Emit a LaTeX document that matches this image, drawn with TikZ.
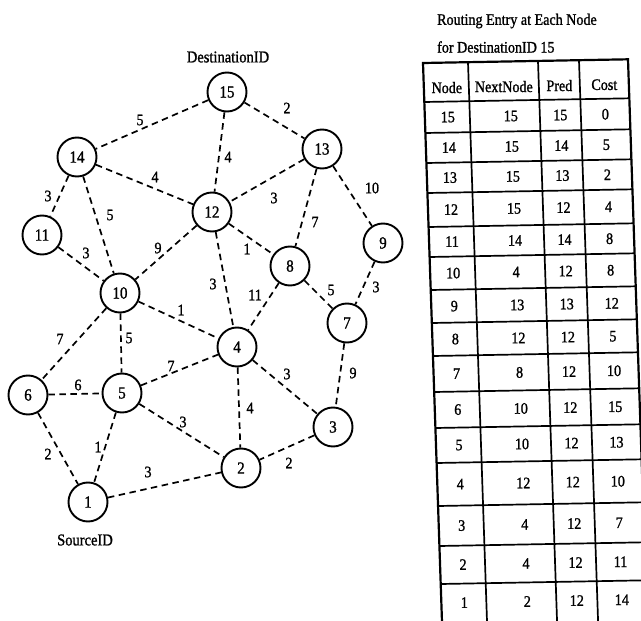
\documentclass[tikz,border=0pt]{standalone}
\usepackage{fontspec}
\setmainfont[FakeBold=1.2, FakeStretch=0.88]{Liberation Serif}
\begin{document}
\begin{tikzpicture}[x=1pt,y=-1pt,
  vtx/.style={circle, draw, line width=1.9pt, minimum size=39pt, inner sep=0pt, font=\fontsize{17}{17}\selectfont},
  edge/.style={line width=1.7pt, dash pattern=on 6.5pt off 4.5pt},
  wt/.style={inner sep=0pt, font=\fontsize{16}{16}\selectfont},
  lbl/.style={inner sep=0pt, font=\fontsize{16.5}{16.5}\selectfont},
  cell/.style={inner sep=0pt, font=\fontsize{16}{16}\selectfont},
  grid/.style={line width=1.7pt},
  frame/.style={line width=2.2pt}]
\useasboundingbox (0,0) rectangle (641,621);
\clip (0,0) rectangle (641,621);
% vertices
\node[vtx] (n15) at (227,92) {15};
\node[vtx] (n14) at (77,157) {14};
\node[vtx] (n13) at (322,149) {13};
\node[vtx] (n12) at (212,212) {12};
\node[vtx] (n11) at (42,235) {11};
\node[vtx] (n9) at (383,243) {9};
\node[vtx] (n8) at (290,266) {8};
\node[vtx] (n10) at (120,293) {10};
\node[vtx] (n7) at (347,323) {7};
\node[vtx] (n4) at (237,347) {4};
\node[vtx] (n6) at (28,395) {6};
\node[vtx] (n5) at (122,393) {5};
\node[vtx] (n3) at (333,427) {3};
\node[vtx] (n2) at (241,468) {2};
\node[vtx] (n1) at (88,502) {1};
\node[lbl] (dest) at (228,57) {DestinationID};
\node[lbl] (src) at (85,540) {SourceID};
% edges
\foreach \a/\b in {15/14,15/13,15/12,14/12,14/11,14/10,11/10,12/10,13/12,13/8,13/9,12/8,12/4,8/4,8/7,9/7,10/4,10/6,10/5,5/4,6/5,5/2,6/1,5/1,1/2,4/3,4/2,7/3,3/2}
  \draw[edge] (n\a) -- (n\b);
% weights
\node[wt] (w15-14) at (140,120) {5};
\node[wt] (w15-13) at (287,108) {2};
\node[wt] (w15-12) at (228,157) {4};
\node[wt] (w14-12) at (155,177) {4};
\node[wt] (w14-11) at (48,196) {3};
\node[wt] (w14-10) at (110,215) {5};
\node[wt] (w11-10) at (86,253) {3};
\node[wt] (w12-10) at (158,248) {9};
\node[wt] (w13-12) at (274,198) {3};
\node[wt] (w13-8) at (315,222) {7};
\node[wt] (w13-9) at (372,188) {10};
\node[wt] (w12-8) at (247,249) {1};
\node[wt] (w12-4) at (213,284) {3};
\node[wt] (w8-4) at (255,295) {11};
\node[wt] (w8-7) at (331,290) {5};
\node[wt] (w9-7) at (376,287) {3};
\node[wt] (w10-4) at (181,310) {1};
\node[wt] (w10-6) at (60,339) {7};
\node[wt] (w10-5) at (129,338) {5};
\node[wt] (w5-4) at (171,366) {7};
\node[wt] (w6-5) at (78,385) {6};
\node[wt] (w5-2) at (183,422) {3};
\node[wt] (w6-1) at (48,454) {2};
\node[wt] (w5-1) at (98,447) {1};
\node[wt] (w1-2) at (148,472) {3};
\node[wt] (w4-3) at (287,374) {3};
\node[wt] (w4-2) at (250,408) {4};
\node[wt] (w7-3) at (353,373) {9};
\node[wt] (w3-2) at (289,463) {2};
% table title
\node[cell, anchor=west] (t1) at (437,21) {Routing Entry at Each Node};
\node[cell, anchor=west] (t2) at (437,47) {for DestinationID 15};
% table
\begin{scope}[shift={(423,63)}, cm={1,0.018,-0.034,1,(0,0)}]
  \foreach \v in {45,115,156} \draw[grid] (\v,0) -- (\v,565);
  \foreach \h in {39,70,100,130,164,194,227,260,293,329,365,400,443,483,521} \draw[grid] (0,\h) -- (205,\h);
  \draw[frame] (0,565) -- (0,0) -- (205,0) -- (205,565);
  \node[cell] (hNode) at (23,25) {Node};
  \node[cell] (hNext) at (80,25) {NextNode};
  \node[cell] (hPred) at (135.5,25) {Pred};
  \node[cell] (hCost) at (180.5,25) {Cost};
  \foreach \a/\b/\c/\d/\t/\u in {15/15/15/0/39/70, 14/15/14/5/70/100, 13/15/13/2/100/130, 12/15/12/4/130/164, 11/14/14/8/164/194, 10/4/12/8/194/227, 9/13/13/12/227/260, 8/12/12/5/260/293, 7/8/12/10/293/329, 6/10/12/15/329/365, 5/10/12/13/365/400, 4/12/12/10/400/443, 3/4/12/7/443/483, 2/4/12/11/483/521, 1/2/12/14/521/559} {
    \node[cell] (r\a-1) at (23,{(\t+\u)/2}) {\a};
    \node[cell] (r\a-2) at (86,{(\t+\u)/2}) {\b};
    \node[cell] (r\a-3) at (135.5,{(\t+\u)/2}) {\c};
    \node[cell] (r\a-4) at (180.5,{(\t+\u)/2}) {\d};
  }
\end{scope}
\end{tikzpicture}
\end{document}
